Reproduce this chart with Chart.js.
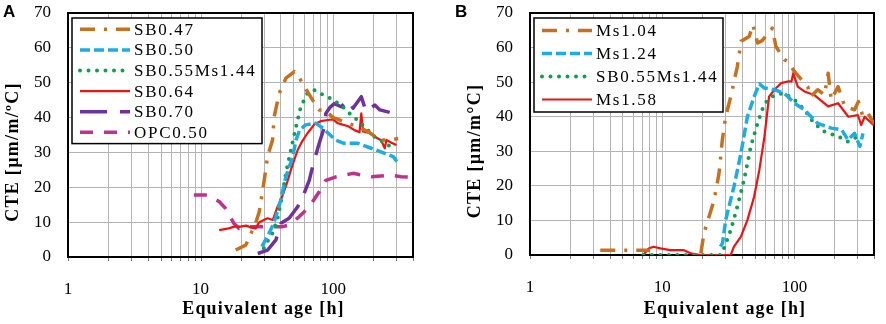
<!DOCTYPE html>
<html>
<head>
<meta charset="utf-8">
<script src="https://cdn.jsdelivr.net/npm/chart.js@4.4.0/dist/chart.umd.min.js"></script>
<style>
html, body { margin: 0; padding: 0; background: #fff; }
#wrap { position: relative; width: 886px; height: 324px; }
.panel { position: absolute; top: 0; width: 443px; height: 324px; }
</style>
</head>
<body>
<div id="wrap">
  <div class="panel" style="left:0"><canvas id="chartA" width="443" height="324"></canvas></div>
  <div class="panel" style="left:443px"><canvas id="chartB" width="443" height="324"></canvas></div>
</div>
<script>
'use strict';

// x axis (equivalent age, log) grid positions and labels
var ageTicks = [1, 2, 3, 4, 5, 6, 7, 8, 9, 10, 20, 30, 40, 50, 60, 70, 80, 90, 100, 200, 300, 400];
var ageLabels = [1, 10, 100];
var cteTicks = [0, 10, 20, 30, 40, 50, 60, 70];

// panel A
var sb047Age = [18.4, 21.9, 26, 27.7, 30.2, 32, 34.9, 35.9, 39.2, 44, 51, 54, 58.9, 65, 70, 78.5, 86, 100, 121, 150, 183, 225, 260, 309];
var sb047Cte = [2, 3.4, 9.7, 13, 22, 28.8, 33.6, 40.2, 47, 51.3, 53.2, 52.2, 49.8, 47, 45, 42.2, 42.2, 40, 38.8, 37.5, 36, 33.6, 33.5, 34];

var sb050Age = [29, 32, 35, 37, 40, 44, 49.5, 52.5, 56, 62, 74, 84, 95, 105, 121, 154, 194, 245, 284, 309];
var sb050Cte = [3, 6, 9, 11.6, 16, 23, 28.8, 33.6, 36.5, 37.9, 38.4, 36.9, 35, 33.5, 32.6, 32.6, 31.2, 29.7, 28.8, 26.9];

var sb055Age = [30, 32, 35, 38, 41, 44, 48, 52.5, 57, 64, 72, 84, 96, 115, 133, 150, 172, 211, 240, 275, 290];
var sb055Cte = [2.5, 4.5, 7, 11, 17, 24, 30.7, 37.4, 43.1, 47, 47.9, 46.5, 45.5, 43.5, 41.2, 39.5, 37.4, 34, 33, 31.5, 32];

var sb064Age = [13.8, 16.3, 18, 20, 22, 24, 26, 27.7, 30, 32, 35, 38, 40, 42.7, 45, 48, 51, 54, 58, 64, 72, 81, 91, 100, 108, 130, 145, 158, 163, 168, 190, 206, 230, 245, 252, 275, 300];
var sb064Cte = [7.7, 8.2, 8.7, 8.7, 9, 8.5, 8.2, 10, 10.6, 11.1, 10.6, 14.4, 16, 19, 21.5, 25, 28, 30.7, 33, 35.5, 38, 39, 39.3, 39.5, 38.4, 37.5, 36.4, 35.8, 41.2, 36, 35.5, 34.5, 33.5, 31.2, 33.6, 32.8, 32.1];

var sb070Age = [27, 32, 37, 40.4, 46.5, 54, 60, 66, 72, 78.5, 86, 88, 95, 102, 115, 129, 141, 163, 177, 206, 225, 267];
var sb070Cte = [1, 2, 4.9, 9.7, 11.1, 14.4, 18, 22, 27.8, 32.6, 37.4, 41.2, 43, 44, 43.1, 45, 42.7, 46, 41.7, 43.6, 42.2, 41.5];

var opc050Age = [8.9, 11.2, 13.8, 15.4, 17.8, 19.5, 22, 26, 30, 35, 41.6, 46.5, 55.5, 66, 78.5, 88, 105, 141, 194, 267, 327, 400];
var opc050Cte = [17.8, 17.8, 15.9, 14, 9.7, 8.2, 8.7, 8.7, 8.7, 8.7, 8.7, 9.2, 11.6, 14.4, 18.7, 22, 23, 24, 23, 23.5, 23, 22.9];

// panel B
var ms104Age = [3.4, 4.3, 5.25, 6.8, 8.1, 12, 19.6, 20.7, 24.7, 26.9, 28.5, 30.2, 33, 37, 39.5, 45.5, 48.5, 52.7, 57, 65, 68, 72.5, 84, 89, 100, 113, 126, 133, 150, 169, 180, 190, 214, 240, 285, 305, 330, 360, 400];
var ms104Cte = [1.4, 1.4, 1.4, 1.4, 1.4, null, 0.5, 6.3, 15.9, 23.6, 33.3, 40, 45.8, 54.5, 61.8, 63.2, 66.6, 61.3, 62, 64.7, 65.6, 60.3, 56.5, 56, 53.1, 50.7, 48.7, 45.8, 47.8, 46.3, 52.6, 44.9, 48.7, 43, 42, 44.4, 40, 41, 38];

var ms124Age = [27.6, 28.6, 30.2, 34.9, 39.4, 44.1, 49.6, 54.3, 59.4, 70.6, 84, 100, 119, 150, 190, 228, 254, 285, 313, 330];
var ms124Cte = [2.4, 3.4, 10.1, 19.8, 29.4, 40, 45.8, 49.5, 48.3, 47.8, 46.8, 43.9, 42, 38.1, 36.7, 36.2, 33.3, 35.2, 31.4, 35.2];

var sb055bAge = [7.2, 9.1, 12, 16, 20, 23, 27.6, 29.3, 33, 37, 41.6, 46.8, 52.6, 59.4, 70.6, 84, 100, 119, 141, 169, 214, 254, 302];
var sb055bCte = [0, 0, 0, 0, 0, 0, 0, 1.9, 7.2, 14, 21.7, 31.4, 38.1, 43.9, 46.3, 46.8, 44.9, 42, 38.1, 35.7, 34.3, 32.8, 34.3];

var ms158Age = [7.2, 7.9, 8.6, 9.7, 11.5, 14.6, 16.4, 19.6, 25, 33, 34.9, 39.4, 44.1, 49.6, 54.3, 59.4, 64.3, 70.6, 79.2, 89, 95, 98, 106, 119, 141, 180, 214, 256, 302, 320, 340, 400];
var ms158Cte = [0, 1.9, 2.4, 1.9, 1.4, 1.4, 0.5, 0, 0, 0, 2.4, 5.3, 10.1, 16.9, 24.6, 34.3, 45.8, 47.8, 49.7, 50.2, 50.2, 52.6, 48.7, 47.3, 46.3, 43, 43.9, 40, 40.5, 37.6, 40, 37.5];

var orange = '#C8701E',
    blue = '#1AADE6',
    green = '#0BA150',
    red = '#F21010',
    purple = '#7030A0',
    magenta = '#C2308E';

var gridGrey = '#b4b4b4';

function toPoints(ages, values) {
    return ages.map(function (a, i) { return { x: a, y: values[i] }; });
}

function line(label, ages, values, color, width, dash, cap) {
    return {
        label: label,
        data: toPoints(ages, values),
        borderColor: color,
        backgroundColor: color,
        borderWidth: width,
        borderDash: dash,
        borderCapStyle: cap || 'butt',
        borderJoinStyle: 'round',
        pointRadius: 0,
        fill: false,
        tension: 0,
        spanGaps: false
    };
}

var DASHDOT = [15, 9, 3, 9], DASH = [10, 4], DOT = [0, 8.5], LONG = [27, 13], MED = [13, 11];

var panelDecor = {
    id: 'panelDecor',
    beforeDatasetsDraw: function (chart) {
        var a = chart.chartArea, ctx = chart.ctx, xs = chart.scales.x;
        ctx.save();
        // log grid + small tick marks under the axis
        ctx.lineWidth = 1;
        ageTicks.forEach(function (v) {
            var px = Math.round(xs.getPixelForValue(v)) + 0.5;
            ctx.strokeStyle = gridGrey;
            ctx.beginPath();
            ctx.moveTo(px, a.top);
            ctx.lineTo(px, a.bottom);
            ctx.stroke();
            ctx.strokeStyle = '#7a7a7a';
            ctx.beginPath();
            ctx.moveTo(px, a.bottom);
            ctx.lineTo(px, a.bottom + 4);
            ctx.stroke();
        });
        ctx.strokeStyle = '#000';
        ctx.lineWidth = 2;
        ctx.strokeRect(a.left, a.top, a.right - a.left, a.bottom - a.top);
        ctx.restore();
    },
    afterDatasetsDraw: function (chart, args, opts) {
        var a = chart.chartArea, ctx = chart.ctx;
        var sets = chart.data.datasets;
        var x0 = a.left + 4, y0 = a.top + 5;
        var h = sets.length * opts.rowHeight + 2;
        ctx.save();
        ctx.fillStyle = '#fff';
        ctx.fillRect(x0, y0, opts.width, h);
        ctx.strokeStyle = '#000';
        ctx.lineWidth = 1.5;
        ctx.strokeRect(x0, y0, opts.width, h);
        ctx.font = '17px "Liberation Serif", "Times New Roman", serif';
        ctx.letterSpacing = '1.7px';
        ctx.textBaseline = 'middle';
        ctx.textAlign = 'left';
        sets.forEach(function (ds, i) {
            var cy = y0 + 1 + opts.rowHeight * (i + 0.5);
            ctx.beginPath();
            ctx.strokeStyle = ds.borderColor;
            ctx.lineWidth = ds.borderWidth;
            ctx.lineCap = ds.borderCapStyle;
            ctx.setLineDash(ds.borderDash);
            ctx.moveTo(x0 + 8, cy);
            ctx.lineTo(x0 + 58, cy);
            ctx.stroke();
            ctx.setLineDash([]);
            ctx.fillStyle = '#000';
            ctx.fillText(ds.label, x0 + 62, cy + 1);
        });
        ctx.restore();
    },
    afterDraw: function (chart, args, opts) {
        var a = chart.chartArea, ctx = chart.ctx;
        ctx.save();
        ctx.fillStyle = '#000';
        ctx.font = 'bold 17px "Liberation Sans", Arial, sans-serif';
        ctx.textAlign = 'left';
        ctx.textBaseline = 'alphabetic';
        ctx.fillText(opts.letter, opts.letterX, 17);

        ctx.font = 'bold 18px "Liberation Serif", "Times New Roman", serif';
        ctx.letterSpacing = '1.2px';
        ctx.textAlign = 'center';
        ctx.textBaseline = 'middle';
        ctx.fillText(opts.xTitle, (a.left + a.right) / 2 + 23, 309);

        ctx.translate(a.left - 55, (a.top + a.bottom) / 2 + 17);
        ctx.rotate(-Math.PI / 2);
        ctx.letterSpacing = '1.3px';
        ctx.fillText(opts.yTitle, 0, 0);
        ctx.restore();
    }
};

function makeOptions(cfg) {
    var tickFont = { family: '"Liberation Serif", "Times New Roman", serif', size: 17 };
    return {
        responsive: false,
        animation: false,
        layout: { padding: { left: 0, right: cfg.padRight, top: 13, bottom: 0 } },
        plugins: {
            legend: { display: false },
            tooltip: { enabled: false },
            panelDecor: {
                width: cfg.legendWidth,
                rowHeight: cfg.rowHeight,
                letter: cfg.letter,
                letterX: cfg.letterX,
                xTitle: 'Equivalent age [h]',
                yTitle: cfg.yTitle
            }
        },
        scales: {
            x: {
                type: 'logarithmic',
                min: 1,
                max: 400,
                afterBuildTicks: function (scale) {
                    scale.ticks = ageTicks.map(function (v) { return { value: v }; });
                },
                afterFit: function (scale) {
                    scale.height = cfg.xHeight;
                    scale.paddingLeft = 0;
                    scale.paddingRight = 0;
                },
                grid: { display: false },
                border: { color: '#000', width: 2 },
                ticks: {
                    source: 'data',
                    autoSkip: false,
                    maxRotation: 0,
                    padding: 14,
                    color: '#000',
                    font: tickFont,
                    callback: function (v) { return ageLabels.indexOf(v) >= 0 ? String(v) : ''; }
                }
            },
            y: {
                min: 0,
                max: 70,
                afterBuildTicks: function (scale) {
                    scale.ticks = cteTicks.map(function (v) { return { value: v }; });
                },
                afterFit: function (scale) {
                    scale.width = cfg.yWidth;
                    scale.paddingTop = 0;
                    scale.paddingBottom = 0;
                },
                grid: { color: gridGrey, lineWidth: 1, drawTicks: false },
                border: { color: '#000', width: 1.5 },
                ticks: { source: 'data', autoSkip: false, padding: 17, color: '#000', font: tickFont }
            }
        }
    };
}

var chartA = new Chart(document.getElementById('chartA'), {
    type: 'line',
    data: {
        datasets: [
            line('SB0.47', sb047Age, sb047Cte, orange, 3.5, DASHDOT),
            line('SB0.50', sb050Age, sb050Cte, blue, 3.5, DASH),
            line('SB0.55Ms1.44', sb055Age, sb055Cte, green, 4, DOT, 'round'),
            line('SB0.64', sb064Age, sb064Cte, red, 2.2, []),
            line('SB0.70', sb070Age, sb070Cte, purple, 3.5, LONG),
            line('OPC0.50', opc050Age, opc050Cte, magenta, 3.5, MED)
        ]
    },
    options: makeOptions({
        padRight: 30, xHeight: 67, yWidth: 68,
        legendWidth: 190, rowHeight: 20.6,
        letter: 'A', letterX: 3, yTitle: 'CTE [µm/m/ºC]'
    }),
    plugins: [panelDecor]
});

var chartB = new Chart(document.getElementById('chartB'), {
    type: 'line',
    data: {
        datasets: [
            line('Ms1.04', ms104Age, ms104Cte, orange, 3.5, DASHDOT),
            line('Ms1.24', ms124Age, ms124Cte, blue, 3.5, DASH),
            line('SB0.55Ms1.44', sb055bAge, sb055bCte, green, 4, DOT, 'round'),
            line('Ms1.58', ms158Age, ms158Cte, red, 2.2, [])
        ]
    },
    options: makeOptions({
        padRight: 12, xHeight: 69, yWidth: 87,
        legendWidth: 189, rowHeight: 23,
        letter: 'B', letterX: 12, yTitle: 'CTE [µm/m°C]'
    }),
    plugins: [panelDecor]
});
</script>
</body>
</html>
